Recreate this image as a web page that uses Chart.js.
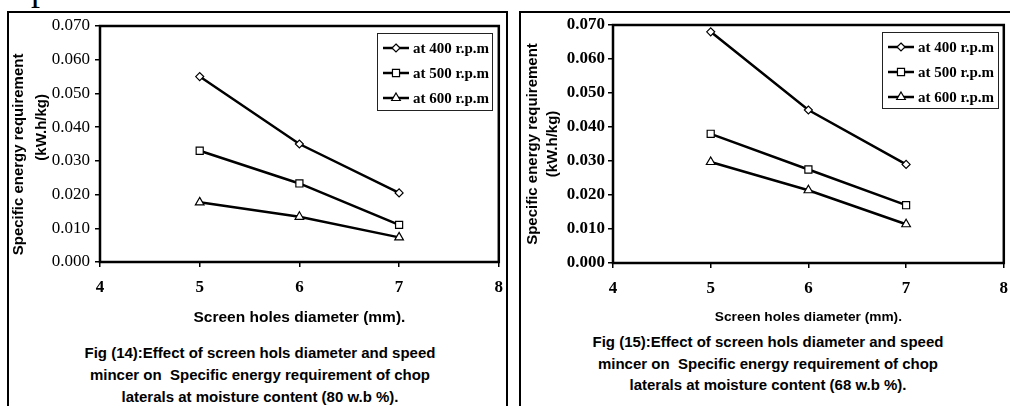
<!DOCTYPE html>
<html>
<head>
<meta charset="utf-8">
<script src="https://cdn.jsdelivr.net/npm/chart.js@4.4.0/dist/chart.umd.min.js"></script>
<style>
body{margin:0;background:#fff;width:1010px;height:406px;overflow:hidden;position:relative;font-family:'Liberation Sans',Arial,sans-serif}
.frame{position:absolute;border:2.5px solid #000;box-sizing:border-box}
#frame14{left:7px;top:11px;width:501px;height:420px}
#frame15{left:519px;top:11px;width:520px;height:420px}
canvas{position:absolute;top:0}
#c14{left:0}
#c15{left:505px}
.cap{position:absolute;font-weight:bold;font-size:15px;text-align:center;white-space:pre;color:#000}
#cap14{left:40px;top:342px;width:440px;line-height:22px}
#cap15{left:548px;top:331px;width:440px;line-height:21.5px}
#frag{position:absolute;left:31px;top:-30px;font:36px/36px 'Liberation Serif',serif}
</style>
</head>
<body>
<div id="frag">p</div>
<div class="frame" id="frame14"></div>
<div class="frame" id="frame15"></div>
<canvas id="c14" width="505" height="330"></canvas>
<canvas id="c15" width="505" height="331"></canvas>
<div class="cap" id="cap14">Fig (14):Effect of screen hols diameter and speed
mincer on  Specific energy requirement of chop
laterals at moisture content (80 w.b %).</div>
<div class="cap" id="cap15">Fig (15):Effect of screen hols diameter and speed
mincer on  Specific energy requirement of chop
laterals at moisture content (68 w.b %).</div>
<script>
// screen hole diameters (mm)
const xValues = [5, 6, 7];
const seriesLabels = ['at 400 r.p.m', 'at 500 r.p.m', 'at 600 r.p.m'];
const xTitle = 'Screen holes diameter (mm).';

// Fig 14 - moisture 80 w.b %
const fig14_400 = [0.055, 0.035, 0.0205];
const fig14_500 = [0.033, 0.0233, 0.011];
const fig14_600 = [0.0177, 0.0134, 0.0073];

// Fig 15 - moisture 68 w.b %
const fig15_400 = [0.068, 0.045, 0.029];
const fig15_500 = [0.038, 0.0275, 0.017];
const fig15_600 = [0.0297, 0.0214, 0.0114];

const markers = ['rectRot', 'rect', 'triangle'];
const markerSize = [4, 5, 5];

function drawMarker(ctx, style, r, x, y) {
    ctx.beginPath();
    if (style == 'rectRot') {
        ctx.moveTo(x, y - r); ctx.lineTo(x + r, y); ctx.lineTo(x, y + r); ctx.lineTo(x - r, y);
    } else if (style == 'rect') {
        const s = r * Math.SQRT1_2;
        ctx.rect(x - s, y - s, 2 * s, 2 * s);
    } else {
        const h = r * 1.5, w = r * Math.sqrt(3);
        ctx.moveTo(x, y - r); ctx.lineTo(x + w / 2, y - r + h); ctx.lineTo(x - w / 2, y - r + h);
    }
    ctx.closePath();
    ctx.fillStyle = '#fff';
    ctx.fill();
    ctx.strokeStyle = '#000';
    ctx.lineWidth = 1.2;
    ctx.stroke();
}

const frameLegend = {
    id: 'frameLegend',
    beforeDatasetsDraw(chart) {
        const a = chart.chartArea, ctx = chart.ctx;
        ctx.save();
        ctx.strokeStyle = '#000';
        ctx.lineWidth = 2.5;
        ctx.strokeRect(a.left, a.top, a.right - a.left, a.bottom - a.top);
        ctx.restore();
    },
    afterDraw(chart, args, opts) {
        const ctx = chart.ctx, b = opts.box;
        ctx.save();
        ctx.fillStyle = '#fff';
        ctx.fillRect(b.x, b.y, b.w, b.h);
        ctx.strokeStyle = '#222';
        ctx.lineWidth = 1;
        ctx.strokeRect(b.x + 0.5, b.y + 0.5, b.w, b.h);
        chart.data.datasets.forEach(function(ds, i) {
            const y = b.y + 15 + i * 25;
            ctx.strokeStyle = '#000';
            ctx.lineWidth = 2.5;
            ctx.beginPath();
            ctx.moveTo(b.x + 6, y);
            ctx.lineTo(b.x + 32, y);
            ctx.stroke();
            drawMarker(ctx, ds.pointStyle, ds.pointRadius, b.x + 19, y);
            ctx.fillStyle = '#000';
            ctx.font = 'bold 15px "Liberation Serif"';
            ctx.textBaseline = 'middle';
            ctx.fillText(ds.label, b.x + 36, y + 1);
        });
        ctx.restore();
    }
};

function makeChart(id, series, o) {
    const ctx = document.getElementById(id).getContext('2d');
    const datasets = series.map(function(vals, i) {
        return {
            label: seriesLabels[i],
            data: xValues.map(function(x, j) { return {x: x, y: vals[j]}; }),
            borderColor: '#000',
            borderWidth: 2.5,
            pointStyle: markers[i],
            pointRadius: markerSize[i],
            pointBackgroundColor: '#fff',
            pointBorderColor: '#000',
            pointBorderWidth: 1.2,
            tension: 0
        };
    });
    return new Chart(ctx, {
        type: 'line',
        data: {datasets: datasets},
        plugins: [frameLegend],
        options: {
            responsive: false,
            animation: false,
            devicePixelRatio: 1,
            layout: {padding: {top: o.top, right: o.right, left: 0, bottom: 0}},
            plugins: {
                legend: {display: false},
                tooltip: {enabled: false},
                frameLegend: {box: o.legendBox}
            },
            scales: {
                x: {
                    type: 'linear',
                    min: 4, max: 8,
                    afterFit: function(s) { s.height = 68; s.paddingLeft = 0; s.paddingRight = 0; },
                    ticks: {stepSize: 1, color: '#000', padding: 10,
                        font: {family: 'Liberation Serif', size: 17, weight: 'bold'}},
                    grid: {drawOnChartArea: false, drawTicks: true, tickLength: 5, color: '#000', lineWidth: 1.5},
                    border: {display: false},
                    title: {display: true, text: xTitle, color: '#000',
                        font: {family: 'Liberation Sans', size: o.xTitleSize, weight: 'bold'},
                        padding: {top: 0, bottom: o.xTitlePad}}
                },
                y: {
                    min: 0, max: 0.07,
                    afterFit: function(s) { s.width = o.yWidth; },
                    ticks: {stepSize: 0.01, color: '#000', padding: o.yTickPad,
                        callback: function(v) { return v.toFixed(3); },
                        font: {family: 'Liberation Serif', size: 17, weight: o.yWeight}},
                    grid: {drawOnChartArea: false, drawTicks: true, tickLength: 5, color: '#000', lineWidth: 1.5},
                    border: {display: false},
                    title: {display: true, text: o.yTitle, color: '#000',
                        font: {family: 'Liberation Sans', size: 15, weight: 'bold', lineHeight: o.yLine},
                        padding: {top: o.yTitlePad, bottom: 0}}
                }
            }
        }
    });
}

makeChart('c14', [fig14_400, fig14_500, fig14_600], {
    top: 26, right: 3, yWidth: 100, yTickPad: 5, yWeight: 'normal',
    yTitle: ['Specific energy requirement     ', '        (kW.h/kg)'],
    yLine: '23px', yTitlePad: 7.5,
    xTitleSize: 15.5, xTitlePad: 2.7,
    legendBox: {x: 377, y: 33, w: 115, h: 77}
});

makeChart('c15', [fig15_400, fig15_500, fig15_600], {
    top: 25, right: 2, yWidth: 108, yTickPad: 3, yWeight: 'bold',
    yTitle: ['Specific energy requirement', '(kW.h/kg)'],
    yLine: '20px', yTitlePad: 18,
    xTitleSize: 13.7, xTitlePad: 5.8,
    legendBox: {x: 377, y: 32, w: 116, h: 76}
});
</script>
</body>
</html>
